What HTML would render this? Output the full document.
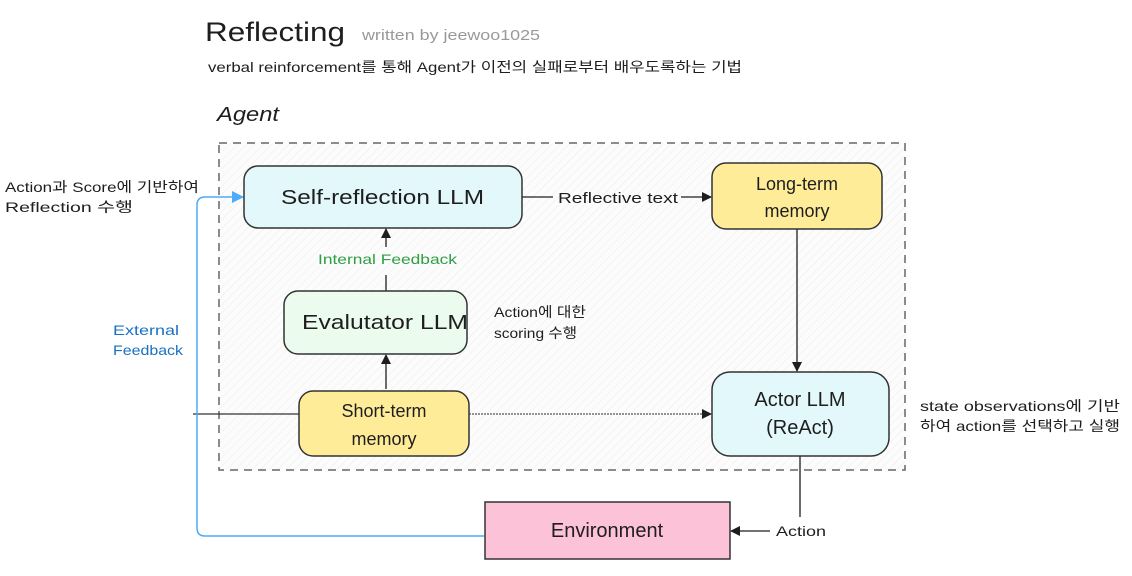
<!DOCTYPE html>
<html><head><meta charset="utf-8"><style>
body{margin:0;background:#fff;}
svg text{font-family:"Liberation Sans","Noto Sans CJK KR",sans-serif;}
</style></head><body>
<svg width="1132" height="571" viewBox="0 0 1132 571" xmlns="http://www.w3.org/2000/svg">
<defs>
<pattern id="h" width="6" height="6" patternUnits="userSpaceOnUse" patternTransform="rotate(45)">
<rect width="6" height="6" fill="#fcfcfc"/><line x1="0" y1="0" x2="0" y2="6" stroke="#ececec" stroke-width="1"/></pattern>
<marker id="a" markerWidth="10" markerHeight="10" refX="9" refY="5" orient="auto" markerUnits="userSpaceOnUse"><path d="M0,0 L10,5 L0,10 z" fill="#1e1e1e"/></marker>
<marker id="b" markerWidth="12" markerHeight="12" refX="11" refY="6" orient="auto" markerUnits="userSpaceOnUse"><path d="M0,0 L12,6 L0,12 z" fill="#4dabf7"/></marker>
</defs>
<text x="205" y="41" font-size="27" fill="#1e1e1e" textLength="140" lengthAdjust="spacingAndGlyphs">Reflecting</text>
<text x="362" y="40" font-size="15" fill="#999" textLength="178" lengthAdjust="spacingAndGlyphs">written by jeewoo1025</text>
<text x="208" y="72" font-size="14" fill="#1e1e1e" textLength="534" lengthAdjust="spacingAndGlyphs">verbal reinforcement를 통해 Agent가 이전의 실패로부터 배우도록하는 기법</text>
<text x="217" y="121" font-size="20" fill="#1e1e1e" font-style="italic" textLength="62" lengthAdjust="spacingAndGlyphs">Agent</text>
<rect x="219" y="143" width="686" height="327" fill="url(#h)" stroke="#666" stroke-width="1.5" stroke-dasharray="8,6"/>
<!-- connectors -->
<line x1="522" y1="197" x2="553" y2="197" stroke="#1e1e1e" stroke-width="1.3"/>
<line x1="681" y1="197" x2="711" y2="197" stroke="#1e1e1e" stroke-width="1.3" marker-end="url(#a)"/>
<text x="558" y="203" font-size="15" fill="#1e1e1e" textLength="120" lengthAdjust="spacingAndGlyphs">Reflective text</text>
<line x1="797" y1="229" x2="797" y2="371" stroke="#1e1e1e" stroke-width="1.3" marker-end="url(#a)"/>
<line x1="386" y1="291" x2="386" y2="275" stroke="#1e1e1e" stroke-width="1.3"/>
<line x1="386" y1="247" x2="386" y2="229" stroke="#1e1e1e" stroke-width="1.3" marker-end="url(#a)"/>
<text x="318" y="264" font-size="14" fill="#2f9e44" textLength="139" lengthAdjust="spacingAndGlyphs">Internal Feedback</text>
<line x1="386" y1="389" x2="386" y2="355" stroke="#1e1e1e" stroke-width="1.3" marker-end="url(#a)"/>
<line x1="193" y1="414" x2="300" y2="414" stroke="#333" stroke-width="1.3"/>
<line x1="469" y1="414" x2="711" y2="414" stroke="#555" stroke-width="1.3" stroke-dasharray="2,1" marker-end="url(#a)"/>
<path d="M800,456 L800,517" stroke="#1e1e1e" stroke-width="1.3" fill="none"/>
<line x1="770" y1="531" x2="731" y2="531" stroke="#1e1e1e" stroke-width="1.3" marker-end="url(#a)"/>
<text x="776" y="536" font-size="14" fill="#1e1e1e" textLength="50" lengthAdjust="spacingAndGlyphs">Action</text>
<path d="M484,536 L205,536 Q197,536 197,528 L197,205 Q197,197 205,197 L243,197" stroke="#4dabf7" stroke-width="1.5" fill="none" marker-end="url(#b)"/>
<text x="113" y="335" font-size="14" fill="#1971c2" textLength="66" lengthAdjust="spacingAndGlyphs">External</text>
<text x="113" y="355" font-size="14" fill="#1971c2" textLength="70" lengthAdjust="spacingAndGlyphs">Feedback</text>
<text x="5" y="192" font-size="14" fill="#1e1e1e" textLength="194" lengthAdjust="spacingAndGlyphs">Action과 Score에 기반하여</text>
<text x="5" y="212" font-size="14" fill="#1e1e1e" textLength="128" lengthAdjust="spacingAndGlyphs">Reflection 수행</text>
<text x="494" y="317" font-size="14" fill="#1e1e1e" textLength="92" lengthAdjust="spacingAndGlyphs">Action에 대한</text>
<text x="494" y="338" font-size="14" fill="#1e1e1e" textLength="83" lengthAdjust="spacingAndGlyphs">scoring 수행</text>
<text x="920" y="411" font-size="14" fill="#1e1e1e" textLength="200" lengthAdjust="spacingAndGlyphs">state observations에 기반</text>
<text x="920" y="431" font-size="14" fill="#1e1e1e" textLength="200" lengthAdjust="spacingAndGlyphs">하여 action를 선택하고 실행</text>
<!-- nodes -->
<rect x="244" y="166" width="278" height="62" rx="14" fill="#e3f8fb" stroke="#333" stroke-width="1.5"/>
<text x="281" y="204" font-size="20" fill="#1e1e1e" textLength="203" lengthAdjust="spacingAndGlyphs">Self-reflection LLM</text>
<rect x="712" y="163" width="170" height="66" rx="14" fill="#ffec99" stroke="#333" stroke-width="1.5"/>
<text x="797" y="190" font-size="18" fill="#1e1e1e" text-anchor="middle">Long-term</text>
<text x="797" y="217" font-size="18" fill="#1e1e1e" text-anchor="middle">memory</text>
<rect x="284" y="291" width="183" height="63" rx="14" fill="#ebfbee" stroke="#333" stroke-width="1.5"/>
<text x="302" y="329" font-size="20" fill="#1e1e1e" textLength="166" lengthAdjust="spacingAndGlyphs">Evalutator LLM</text>
<rect x="299" y="391" width="170" height="65" rx="14" fill="#ffec99" stroke="#333" stroke-width="1.5"/>
<text x="384" y="417" font-size="18" fill="#1e1e1e" text-anchor="middle">Short-term</text>
<text x="384" y="445" font-size="18" fill="#1e1e1e" text-anchor="middle">memory</text>
<rect x="712" y="372" width="177" height="84" rx="18" fill="#e3f8fb" stroke="#333" stroke-width="1.5"/>
<text x="800" y="406" font-size="20" fill="#1e1e1e" text-anchor="middle">Actor LLM</text>
<text x="800" y="434" font-size="20" fill="#1e1e1e" text-anchor="middle">(ReAct)</text>
<rect x="485" y="502" width="245" height="57" fill="#fcc2d7" stroke="#333" stroke-width="1.5"/>
<text x="607" y="537" font-size="20" fill="#1e1e1e" text-anchor="middle">Environment</text>
</svg>
</body></html>
